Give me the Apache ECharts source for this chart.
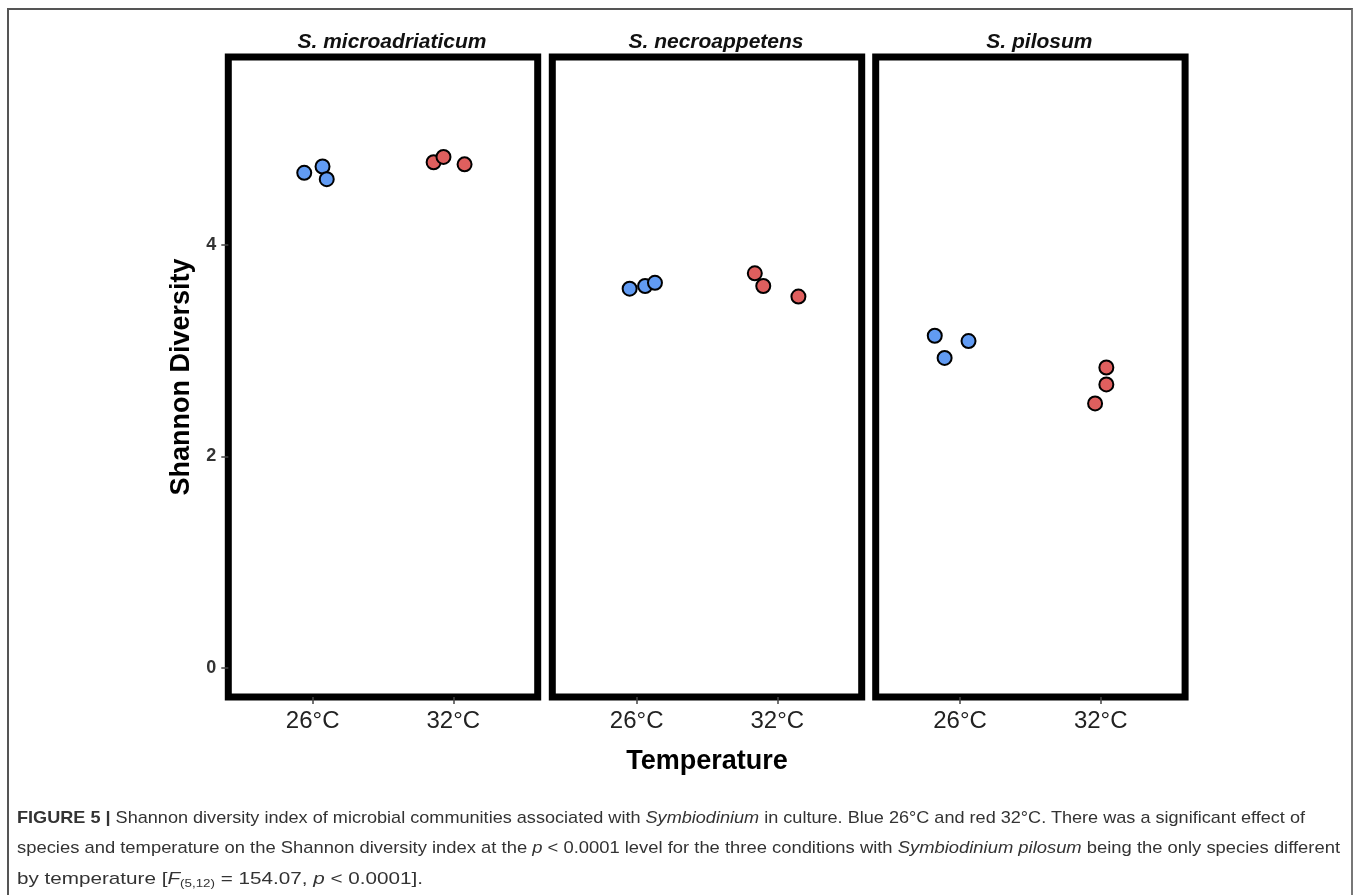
<!DOCTYPE html>
<html>
<head>
<meta charset="utf-8">
<script src="https://cdn.jsdelivr.net/npm/echarts@6/dist/echarts.min.js"></script>
<style>
  html, body { margin: 0; padding: 0; background: #fff; }
  #frame { position: absolute; left: 7px; top: 8px; width: 1342px; height: 900px;
    border-top: 2px solid #555; border-left: 2px solid #555; border-right: 2px solid #777; }
  #chart { position: absolute; left: 0; top: 0; width: 1357px; height: 895px; }
  .cap { position: absolute; left: 17px; font-family: "Liberation Sans", Arial, sans-serif;
    font-size: 17px; line-height: 30px; height: 30px; color: #333; white-space: nowrap;
    transform-origin: left center; }
  .cap sub { font-size: 11px; vertical-align: -3px; line-height: 0; }
</style>
</head>
<body>
<div id="frame"></div>
<div id="chart"></div>
<div class="cap" id="cap1" style="top:803px"><b>FIGURE 5 |</b> Shannon diversity index of microbial communities associated with <i>Symbiodinium</i> in culture. Blue 26°C and red 32°C. There was a significant effect of</div>
<div class="cap" id="cap2" style="top:833px">species and temperature on the Shannon diversity index at the <i>p</i> &lt; 0.0001 level for the three conditions with <i>Symbiodinium pilosum</i> being the only species different</div>
<div class="cap" id="cap3" style="top:864px">by temperature [<i>F</i><sub>(5,12)</sub> = 154.07, <i>p</i> &lt; 0.0001].</div>
<script>
// facet names and temperature categories
const species = ['S. microadriaticum', 'S. necroappetens', 'S. pilosum'];
const temps = ['26°C', '32°C'];
const tempPos = [1, 2];
const yTicks = [0, 2, 4];

// [jittered x position, Shannon diversity]
const microadriaticum26 = [[0.94, 4.68], [1.07, 4.74], [1.10, 4.62]];
const microadriaticum32 = [[1.86, 4.78], [1.93, 4.83], [2.08, 4.76]];
const necroappetens26 = [[0.95, 3.585], [1.06, 3.61], [1.13, 3.64]];
const necroappetens32 = [[1.84, 3.73], [1.90, 3.61], [2.15, 3.51]];
const pilosum26 = [[0.82, 3.14], [0.89, 2.93], [1.06, 3.09]];
const pilosum32 = [[2.04, 2.84], [2.04, 2.68], [1.96, 2.50]];

const blueData = [microadriaticum26, necroappetens26, pilosum26];
const redData = [microadriaticum32, necroappetens32, pilosum32];

const font = '"Liberation Sans", Arial, sans-serif';
const panelLeft = [228.3, 552.3, 875.7];
const panelWidth = 309.4;

const grids = [], xAxes = [], yAxes = [], series = [], titles = [];
panelLeft.forEach((left, i) => {
  grids.push({
    left: left, top: 57, width: panelWidth, height: 640,
    show: true, borderColor: '#000', borderWidth: 7, backgroundColor: '#fff'
  });
  xAxes.push({
    gridIndex: i, type: 'value', min: 0.4, max: 2.6, position: 'bottom',
    axisLine: { show: false, onZero: false },
    splitLine: { show: false },
    axisTick: { show: true, customValues: tempPos, length: 7, lineStyle: { color: '#444', width: 1.5 } },
    axisLabel: {
      customValues: tempPos, margin: 12,
      formatter: (v) => temps[tempPos.indexOf(Math.round(v))] || '',
      color: '#222', fontSize: 24, fontFamily: font
    },
    name: i === 1 ? 'Temperature' : '',
    nameLocation: 'middle', nameGap: 51,
    nameTextStyle: { fontSize: 27, fontWeight: 'bold', color: '#000', fontFamily: font }
  });
  yAxes.push({
    gridIndex: i, type: 'value', min: -0.275, max: 5.775, position: 'left',
    axisLine: { show: false, onZero: false },
    splitLine: { show: false },
    axisTick: { show: i === 0, customValues: yTicks, length: 7, lineStyle: { color: '#444', width: 1.5 } },
    axisLabel: {
      show: i === 0, customValues: yTicks, margin: 12,
      color: '#333', fontSize: 18, fontWeight: 'bold', fontFamily: font
    },
    name: i === 0 ? 'Shannon Diversity' : '',
    nameLocation: 'middle', nameGap: 33,
    nameTextStyle: { fontSize: 27, fontWeight: 'bold', color: '#000', fontFamily: font }
  });
  series.push({
    name: temps[0], type: 'scatter', xAxisIndex: i, yAxisIndex: i,
    symbolSize: 14, data: blueData[i],
    itemStyle: { color: '#619BF3', borderColor: '#000', borderWidth: 2, opacity: 1 }
  });
  series.push({
    name: temps[1], type: 'scatter', xAxisIndex: i, yAxisIndex: i,
    symbolSize: 14, data: redData[i],
    itemStyle: { color: '#DF5F5E', borderColor: '#000', borderWidth: 2, opacity: 1 }
  });
  titles.push({
    text: species[i], left: left + panelWidth / 2 + 4, top: 27, textAlign: 'center',
    textStyle: { fontSize: 21, fontWeight: 'bold', fontStyle: 'italic', color: '#111', fontFamily: font }
  });
});

const option = {
  animation: false,
  backgroundColor: 'transparent',
  title: titles,
  grid: grids,
  xAxis: xAxes,
  yAxis: yAxes,
  series: series
};

const dom = document.getElementById('chart');
const myChart = echarts.init(dom);
myChart.setOption(option);

// fit caption lines to their printed widths
const capTargets = { cap1: 1288, cap2: 1323, cap3: 406 };
Object.keys(capTargets).forEach((id) => {
  const el = document.getElementById(id);
  const w = el.getBoundingClientRect().width;
  el.style.transform = 'scaleX(' + (capTargets[id] / w) + ')';
});
</script>
</body>
</html>
